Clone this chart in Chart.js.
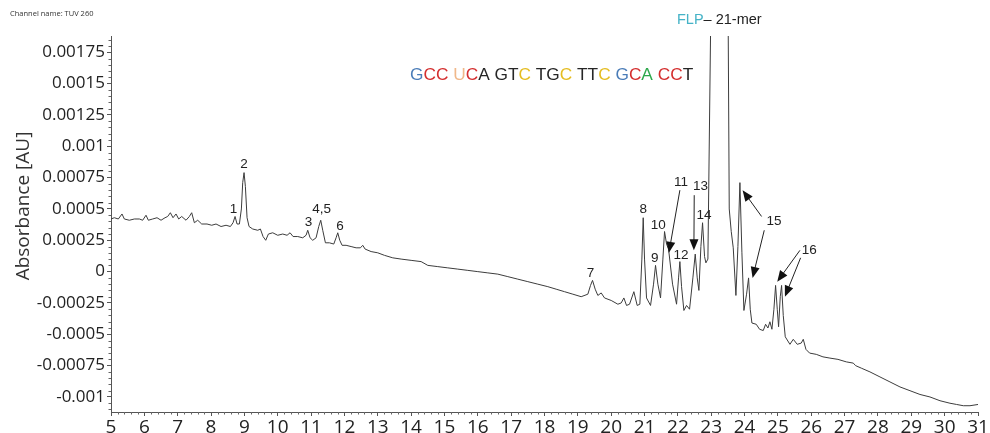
<!DOCTYPE html>
<html>
<head>
<meta charset="utf-8">
<script src="https://cdn.jsdelivr.net/npm/chart.js@4.4.0/dist/chart.umd.min.js"></script>
<style>
  html, body { margin: 0; padding: 0; background: #fff; }
</style>
</head>
<body>
<canvas id="chrom" width="990" height="433"></canvas>
<script>
// retention time (min) and absorbance (AU)
const retentionTime = [
  5.00, 5.10, 5.22, 5.33, 5.40, 5.55, 5.70, 5.85, 5.95, 6.05, 6.12, 6.25, 6.38, 6.50, 6.62, 6.70, 6.78, 6.86, 6.95, 7.03,
  7.12, 7.25, 7.35, 7.42, 7.50, 7.60, 7.72, 7.88, 8.02, 8.15, 8.30, 8.45, 8.58, 8.66, 8.72, 8.78, 8.85, 8.91, 8.95, 8.99,
  9.03, 9.08, 9.14, 9.25, 9.40, 9.48, 9.56, 9.64, 9.72, 9.85, 10.00, 10.15, 10.28, 10.37, 10.46, 10.60, 10.75, 10.85, 10.90, 10.97,
  11.05, 11.15, 11.23, 11.29, 11.35, 11.43, 11.55, 11.68, 11.75, 11.80, 11.86, 11.93, 12.05, 12.20, 12.35, 12.48, 12.55, 12.62, 12.80, 13.00,
  13.20, 13.45, 13.70, 14.00, 14.30, 14.50, 14.80, 15.10, 15.40, 15.70, 16.00, 16.30, 16.60, 16.90, 17.20, 17.50, 17.80, 18.10, 18.35, 18.60,
  18.85, 19.10, 19.30, 19.38, 19.44, 19.52, 19.60, 19.70, 19.80, 20.00, 20.20, 20.30, 20.38, 20.46, 20.55, 20.68, 20.78, 20.86, 20.92, 20.96,
  21.00, 21.06, 21.18, 21.27, 21.33, 21.40, 21.48, 21.55, 21.60, 21.66, 21.72, 21.84, 21.96, 22.02, 22.06, 22.11, 22.18, 22.26, 22.35, 22.45,
  22.52, 22.58, 22.63, 22.69, 22.74, 22.80, 22.84, 22.90, 22.98, 23.05, 23.25, 23.45, 23.51, 23.54, 23.60, 23.66, 23.74, 23.80, 23.86, 23.92,
  23.98, 24.06, 24.12, 24.17, 24.22, 24.35, 24.45, 24.56, 24.63, 24.70, 24.76, 24.82, 24.88, 24.93, 24.98, 25.02, 25.07, 25.11, 25.16, 25.22,
  25.36, 25.46, 25.58, 25.70, 25.76, 25.84, 25.95, 26.15, 26.35, 26.56, 26.80, 27.05, 27.26, 27.33, 27.50, 27.76, 28.06, 28.36, 28.66, 28.96,
  29.26, 29.56, 29.86, 30.16, 30.36, 30.56, 30.76, 31.00
];
const absorbance = [
  0.00042, 0.00043, 0.00042, 0.00046, 0.00042, 0.00041, 0.00042, 0.00042, 0.00041, 0.00045, 0.00041, 0.00042, 0.00043, 0.00041, 0.00043, 0.00044, 0.00047, 0.00043, 0.00046, 0.00042,
  0.00044, 0.00041, 0.00044, 0.00047, 0.00039, 0.00041, 0.00038, 0.00038, 0.00037, 0.00038, 0.00036, 0.00037, 0.00036, 0.00039, 0.00044, 0.00038, 0.00038, 0.00050, 0.00071, 0.00079,
  0.00068, 0.00043, 0.00036, 0.00034, 0.00033, 0.00034, 0.00028, 0.00025, 0.00030, 0.00031, 0.00029, 0.00030, 0.00029, 0.00031, 0.00028, 0.00028, 0.00027, 0.00029, 0.00033, 0.00027,
  0.00025, 0.00027, 0.00036, 0.00041, 0.00033, 0.00023, 0.00023, 0.00022, 0.00027, 0.00031, 0.00025, 0.00021, 0.00021, 0.00020, 0.00019, 0.00019, 0.00021, 0.00018, 0.00016, 0.00015,
  0.00013, 0.00011, 0.00010, 0.00009, 0.00008, 0.00005, 0.00004, 0.00003, 0.00002, 0.00001, 0.00000, -0.00001, -0.00002, -0.00004, -0.00006, -0.00008, -0.00010, -0.00012, -0.00014, -0.00016,
  -0.00018, -0.00020, -0.00018, -0.00011, -0.00007, -0.00014, -0.00019, -0.00017, -0.00021, -0.00023, -0.00026, -0.00025, -0.00021, -0.00027, -0.00026, -0.00016, -0.00027, -0.00026, 0.00010, 0.00043,
  0.00010, -0.00021, -0.00027, -0.00010, 0.00005, -0.00010, -0.00021, 0.00010, 0.00032, 0.00022, 0.00018, -0.00010, -0.00026, -0.00005, 0.00008, -0.00012, -0.00031, -0.00027, -0.00030, -0.00005,
  0.00014, -0.00005, -0.00015, 0.00020, 0.00039, 0.00012, 0.00007, 0.00010, 0.00190, 0.00800, 0.01200, 0.00800, 0.00190, 0.00050, 0.00032, 0.00019, -0.00019, 0.00020, 0.00071, 0.00015,
  -0.00031, -0.00018, -0.00005, -0.00030, -0.00041, -0.00042, -0.00046, -0.00047, -0.00042, -0.00045, -0.00040, -0.00046, -0.00030, -0.00011, -0.00030, -0.00044, -0.00020, -0.00011, -0.00035, -0.00052,
  -0.00058, -0.00054, -0.00058, -0.00057, -0.00054, -0.00062, -0.00065, -0.00066, -0.00068, -0.00069, -0.00070, -0.00072, -0.00073, -0.00075, -0.00077, -0.00080, -0.00084, -0.00088, -0.00092, -0.00095,
  -0.00098, -0.00100, -0.00103, -0.00105, -0.00106, -0.00107, -0.00107, -0.00106
];

const xTicks = [5, 6, 7, 8, 9, 10, 11, 12, 13, 14, 15, 16, 17, 18, 19, 20, 21, 22, 23, 24, 25, 26, 27, 28, 29, 30, 31];
const yTicks = [-0.001, -0.00075, -0.0005, -0.00025, 0, 0.00025, 0.0005, 0.00075, 0.001, 0.00125, 0.0015, 0.00175];
const yTickLabels = ["-0.001", "-0.00075", "-0.0005", "-0.00025", "0", "0.00025", "0.0005", "0.00075", "0.001", "0.00125", "0.0015", "0.00175"];

// peak numbers, placed in data units (time, absorbance)
const peakNames = ["1", "2", "3", "4,5", "6", "7", "8", "9", "10", "11", "12", "13", "14", "15", "16"];
const peakNameTime = [8.67, 8.99, 10.92, 11.32, 11.87, 19.38, 20.96, 21.31, 21.41, 22.09, 22.09, 22.68, 22.78, 24.88, 25.94];
const peakNameAbs = [0.0005, 0.00086, 0.00039, 0.0005, 0.00036, -0.00001, 0.0005, 0.00011, 0.00037, 0.00071, 0.00013, 0.00068, 0.00045, 0.0004, 0.00017];

// arrows: from label to peak tip
const arrowFromTime = [22.06, 22.49, 24.51, 24.59, 25.66, 25.68];
const arrowFromAbs = [0.00065, 0.00061, 0.00044, 0.00033, 0.00017, 0.00011];
const arrowToTime = [21.73, 22.48, 23.94, 24.24, 24.98, 25.21];
const arrowToAbs = [0.00015, 0.00017, 0.00065, -0.00005, -0.00008, -0.0002];

// oligo sequence and the colour code of each letter
const sequence = "GCC UCA GTC TGC TTC GCA CCT";
const sequenceCode = "BRR PRK KKY KKY KKY BRG RRK";
const codeColors = { B: "#4a7cb8", R: "#d42e2e", P: "#f0b88a", K: "#262626", Y: "#e5bd22", G: "#2ea84c" };

const TEXT = '"Liberation Sans", Arial, sans-serif';
const TICKS = '"Open Sans", sans-serif';

const points = retentionTime.map((t, i) => ({ x: t, y: absorbance[i] }));

function drawArrow(ctx, x1, y1, x2, y2) {
    const ang = Math.atan2(y2 - y1, x2 - x1);
    const len = 11, half = 4.5;
    ctx.beginPath();
    ctx.moveTo(x1, y1);
    ctx.lineTo(x2 - Math.cos(ang) * len * 0.8, y2 - Math.sin(ang) * len * 0.8);
    ctx.stroke();
    ctx.beginPath();
    ctx.moveTo(x2, y2);
    ctx.lineTo(x2 - Math.cos(ang) * len - Math.sin(ang) * half, y2 - Math.sin(ang) * len + Math.cos(ang) * half);
    ctx.lineTo(x2 - Math.cos(ang) * len + Math.sin(ang) * half, y2 - Math.sin(ang) * len - Math.cos(ang) * half);
    ctx.closePath();
    ctx.fill();
}

const overlay = {
    id: 'overlay',
    afterDraw(chart) {
        const ctx = chart.ctx;
        const xs = chart.scales.x, ys = chart.scales.y;
        const area = chart.chartArea;
        ctx.save();

        // minor ticks
        ctx.strokeStyle = '#666';
        ctx.lineWidth = 1;
        ctx.beginPath();
        for (let i = 1; i < 130; i++) {
            if (i % 5 === 0) continue;
            const px = Math.round(xs.getPixelForValue(5 + i * 0.2)) + 0.5;
            ctx.moveTo(px, area.bottom);
            ctx.lineTo(px, area.bottom + 2.5);
        }
        for (let k = -22; k <= 37; k++) {
            if (k % 5 === 0) continue;
            const py = Math.round(ys.getPixelForValue(k * 0.00005)) + 0.5;
            if (py < area.top || py > area.bottom) continue;
            ctx.moveTo(area.left, py);
            ctx.lineTo(area.left - 2.5, py);
        }
        ctx.stroke();

        // y title
        ctx.save();
        ctx.translate(24, 206);
        ctx.rotate(-Math.PI / 2);
        ctx.fillStyle = '#333';
        ctx.font = '19px ' + TICKS;
        ctx.textAlign = 'center';
        ctx.textBaseline = 'middle';
        ctx.fillText('Absorbance [AU]', 0, 0);
        ctx.restore();

        // channel name
        ctx.fillStyle = '#333';
        ctx.font = '7.5px ' + TICKS;
        ctx.textAlign = 'left';
        ctx.textBaseline = 'middle';
        ctx.fillText('Channel name: TUV 260', 10, 14);

        // peak numbers
        ctx.fillStyle = '#222';
        ctx.font = '13.5px ' + TEXT;
        ctx.textAlign = 'center';
        peakNames.forEach((n, i) => {
            ctx.fillText(n, xs.getPixelForValue(peakNameTime[i]), ys.getPixelForValue(peakNameAbs[i]));
        });

        // arrows
        ctx.strokeStyle = '#222';
        ctx.fillStyle = '#111';
        ctx.lineWidth = 1;
        arrowFromTime.forEach((t, i) => {
            drawArrow(ctx, xs.getPixelForValue(t), ys.getPixelForValue(arrowFromAbs[i]),
                xs.getPixelForValue(arrowToTime[i]), ys.getPixelForValue(arrowToAbs[i]));
        });

        // sequence
        ctx.font = '17.3px ' + TEXT;
        ctx.textAlign = 'left';
        let sx = 410;
        for (let i = 0; i < sequence.length; i++) {
            const ch = sequence[i];
            if (ch !== ' ') {
                ctx.fillStyle = codeColors[sequenceCode[i]];
                ctx.fillText(ch, sx, 75);
            }
            sx += ctx.measureText(ch).width;
        }

        // main peak label
        ctx.font = '14.5px ' + TEXT;
        ctx.fillStyle = '#45b3c7';
        ctx.fillText('FLP', 677, 20);
        const w = ctx.measureText('FLP').width;
        ctx.fillStyle = '#222';
        ctx.fillText('\u2013 21-mer', 677 + w, 20);

        ctx.restore();
    }
};

new Chart(document.getElementById('chrom'), {
    type: 'line',
    data: {
        datasets: [{
            data: points,
            borderColor: '#3c3c3c',
            borderWidth: 1,
            pointRadius: 0,
            tension: 0,
            fill: false
        }]
    },
    options: {
        responsive: false,
        animation: false,
        devicePixelRatio: 1,
        layout: { padding: { left: 0, top: 36, right: 12, bottom: 0 } },
        plugins: { legend: { display: false }, tooltip: { enabled: false } },
        scales: {
            x: {
                type: 'linear',
                min: 5,
                max: 31,
                afterBuildTicks: (scale) => { scale.ticks = xTicks.map(v => ({ value: v })); },
                afterFit: (scale) => { scale.height = 21; },
                grid: { drawOnChartArea: false, drawTicks: true, tickLength: 4, tickColor: '#555' },
                border: { display: true, color: '#555' },
                ticks: { color: '#222', padding: 0, maxRotation: 0, autoSkip: false, font: { family: '"Liberation Sans Narrow", "Open Sans", sans-serif', size: 19 } }
            },
            y: {
                min: -0.00112,
                max: 0.00188,
                afterBuildTicks: (scale) => { scale.ticks = yTicks.map(v => ({ value: v })); },
                afterFit: (scale) => { scale.width = 111; },
                grid: { drawOnChartArea: false, drawTicks: true, tickLength: 4, tickColor: '#555' },
                border: { display: true, color: '#555' },
                ticks: {
                    color: '#222',
                    padding: 2,
                    autoSkip: false,
                    font: { family: TICKS, size: 17 },
                    callback: (v) => { const i = yTicks.findIndex(t => Math.abs(t - v) < 1e-9); return i >= 0 ? yTickLabels[i] : ''; }
                }
            }
        }
    },
    plugins: [overlay]
});
</script>
</body>
</html>
